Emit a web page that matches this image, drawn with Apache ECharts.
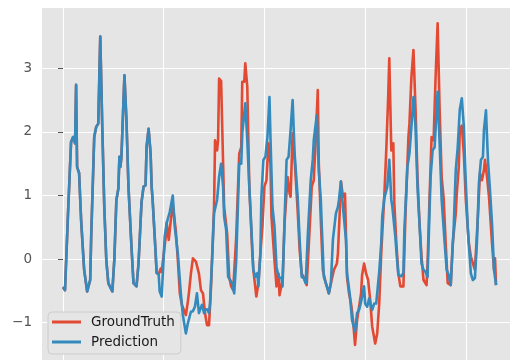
<!DOCTYPE html>
<html>
<head>
<meta charset="utf-8">
<script src="https://cdn.jsdelivr.net/npm/echarts@6/dist/echarts.min.js"></script>
<style>
  html, body { margin: 0; padding: 0; background: #ffffff; }
  #chart { width: 510px; height: 360px; }
</style>
</head>
<body>
<div id="chart"></div>
<script>
// Hourly samples [hour index, standardized value]
// Both series coincide for the first four days
const sharedHead = [
  [0,-0.44],[2,-0.49],[5,0.72],[8,1.84],[10,1.92],[12,1.82],[13,2.74],[14,1.45],[16,1.35],
  [18,0.61],[21,-0.17],[24,-0.51],[27,-0.33],[28,0.35],[31,1.92],[33,2.08],[35,2.13],[37,3.5],
  [39,2.08],[41,0.82],[43,-0.02],[45,-0.38],[49,-0.51],[51,0],[53,0.93],[55,1.11],[56,1.61],
  [57,1.45],[58,1.6],[61,2.89],[63,2.19],[65,1.14],[68,0.19],[70,-0.38],[73,-0.43],[75,-0.07],
  [78,0.9],[80,1.14],[82,1.16],[83,1.77],[85,2.05],[87,1.66],[88,1.14],[89,0.93],[92,0.09],
  [93,-0.22],[95,-0.24]
];

const groundTruthTail = [
  [97,-0.15],[98,-0.2],[102,0.35],[103,0.57],[105,0.3],[107,0.6],[109,0.85],[112,0.45],[114,0.0],
  [116,-0.54],[118,-0.72],[120,-0.8],[122,-0.88],[124,-0.67],[125,-0.54],[127,-0.23],[128,-0.25],
  [129,0.01],[132,-0.04],[135,-0.23],[137,-0.49],[139,-0.54],[141,-0.85],[143,-1.04],[145,-1.04],
  [147,-0.43],[150,0.82],[151,1.87],[153,1.71],[154,1.87],[155,2.84],[157,2.8],[159,1.5],[160,0.82],
  [163,0.4],[165,-0.28],[167,-0.43],[169,-0.49],[172,0.35],[175,1.66],[177,1.76],[178,2.79],
  [180,2.79],[181,3.08],[183,2.71],[185,1.14],[188,0.09],[189,-0.17],[192,-0.59],[194,-0.38],
  [196,0.09],[198,0.51],[200,1.14],[202,1.24],[204,1.82],[206,1.5],[207,0.67],[210,-0.02],
  [212,-0.43],[214,-0.23],[215,-0.57],[218,-0.33],[220,0.56],[223,1.29],[225,1.03],[226,0.98],
  [228,1.98],[230,1.56],[233,0.77],[235,0.14],[237,-0.23],[239,-0.28],[242,-0.41],[245,0.51],
  [247,1.14],[249,1.24],[251,1.9],[253,2.66],[254,1.5],[256,0.61],[258,-0.17],[261,-0.38],
  [264,-0.54],[266,-0.38],[269,-0.17],[272,-0.07],[273,0.09],[275,0.82],[276,1.22],[278,0.98],
  [280,1.03],[282,-0.28],[284,-0.54],[286,-0.7],[288,-0.96],[290,-1.35],[292,-0.96],[294,-0.75],
  [296,-0.54],[297,-0.25],[299,-0.07],[301,-0.23],[303,-0.33],[305,-0.64],[307,-1.06],[310,-1.33],
  [312,-1.17],[314,-0.7],[316,0.09],[319,0.98],[321,1.71],[323,2.6],[324,3.16],[326,1.71],
  [328,1.82],[329,0.88],[331,0.25],[333,-0.23],[335,-0.43],[338,-0.43],[340,0.67],[343,1.92],
  [344,2.13],[346,2.87],[348,3.29],[350,2.39],[352,1.29],[354,0.56],[356,0.04],[358,-0.33],
  [361,-0.41],[362,-0.07],[364,0.98],[366,1.92],[368,1.87],[370,2.87],[372,3.71],[374,2.34],
  [376,1.29],[378,0.95],[380,0.25],[382,-0.38],[385,-0.41],[387,0.25],[390,0.72],[391,1.03],
  [393,1.45],[394,2.03],[396,2.1],[398,1.66],[400,0.93],[403,0.25],[405,0.04],[408,-0.12],
  [409,-0.17],[412,0.67],[414,1.35],[416,1.24],[418,1.4],[419,1.56],[421,1.3],[423,0.98],
  [426,0.25],[428,-0.17],[429,0.01],[430,-0.41]
];

const predictionTail = [
  [96,-0.51],[98,-0.59],[101,0.35],[103,0.57],[106,0.74],[109,1.0],[111,0.51],[114,0.09],
  [117,-0.54],[119,-0.88],[122,-1.17],[124,-1.01],[127,-0.83],[129,-0.82],[131,-0.75],[133,-0.54],
  [135,-0.85],[136,-0.8],[138,-0.72],[140,-0.85],[141,-0.8],[143,-0.79],[145,-0.85],[146,-0.7],
  [148,-0.02],[150,0.72],[153,0.93],[155,1.29],[157,1.5],[159,1.14],[160,0.67],[162,0.46],
  [164,-0.28],[166,-0.33],[168,-0.38],[170,-0.54],[172,-0.02],[175,1.5],[177,1.5],[178,1.98],
  [181,2.45],[183,1.87],[185,1.14],[187,0.5],[189,-0.17],[191,-0.28],[193,-0.22],[194,-0.43],
  [196,0.09],[197,0.98],[199,1.56],[201,1.61],[203,1.92],[205,2.55],[206,1.92],[208,0.82],
  [210,0.51],[212,-0.12],[214,-0.28],[217,-0.3],[218,-0.43],[220,0.61],[222,1.56],[224,1.61],
  [226,2.03],[228,2.5],[230,1.66],[233,0.98],[235,0.3],[237,-0.28],[239,-0.3],[241,-0.38],
  [243,0.35],[246,1.24],[248,1.56],[249,1.87],[252,2.26],[254,1.4],[256,0.93],[257,0.5],
  [259,-0.28],[262,-0.43],[264,-0.54],[266,-0.38],[268,0.3],[271,0.72],[273,0.82],[274,0.93],
  [276,1.22],[278,0.82],[281,0.3],[282,-0.22],[285,-0.59],[287,-0.96],[290,-1.14],[292,-0.85],
  [294,-0.8],[296,-0.67],[297,-0.7],[299,-0.43],[300,-0.7],[302,-0.75],[304,-0.62],[305,-0.65],
  [307,-0.8],[309,-0.7],[311,-0.7],[312,-0.7],[314,-0.2],[316,0.25],[317,0.67],[319,0.95],
  [322,1.14],[324,1.56],[326,0.93],[327,0.83],[330,0.35],[332,-0.07],[333,-0.25],[336,-0.27],
  [338,-0.22],[339,0.46],[342,1.45],[344,1.66],[346,2.09],[348,2.55],[350,2.09],[352,1.14],
  [354,0.56],[356,-0.07],[358,-0.17],[360,-0.2],[362,-0.28],[363,0.25],[365,1.29],[367,1.71],
  [369,1.76],[371,2.34],[372,2.63],[374,1.82],[376,0.93],[379,0.25],[381,-0.17],[383,-0.25],
  [385,-0.41],[388,0.51],[390,1.4],[392,1.77],[394,2.35],[396,2.53],[398,2.09],[400,1.19],
  [402,0.46],[405,-0.23],[407,-0.33],[409,-0.3],[411,0.25],[413,1.19],[415,1.56],[417,1.61],
  [418,2.03],[420,2.34],[422,1.55],[424,1.08],[426,0.56],[428,-0.17],[430,-0.41]
];

const groundTruth = sharedHead.concat(groundTruthTail);
const prediction = sharedHead.concat(predictionTail);

const xTicks = [0, 100, 200, 300, 400];
const yTicks = [-1, 0, 1, 2, 3];
const seriesNames = ['GroundTruth', 'Prediction'];

const FONT = 'DejaVu Sans';
const chart = echarts.init(document.getElementById('chart'), null, { renderer: 'canvas' });

chart.setOption({
  animation: false,
  backgroundColor: '#ffffff',
  grid: {
    left: 42, top: 8, width: 477, height: 354,
    outerBoundsMode: 'none',
    containLabel: false,
    show: true, backgroundColor: '#E5E5E5', borderWidth: 0
  },
  xAxis: {
    type: 'value',
    min: -20.85, max: 452.8,
    axisLine: { show: false },
    axisTick: { show: false, customValues: xTicks },
    axisLabel: { show: false, customValues: xTicks },
    splitLine: { show: true, lineStyle: { color: '#ffffff', width: 1.1 } }
  },
  yAxis: {
    type: 'value',
    min: -1.62, max: 3.95,
    axisLine: { show: false },
    axisTick: { show: true, length: 5, customValues: yTicks, lineStyle: { color: '#555555', width: 1 } },
    axisLabel: {
      customValues: yTicks,
      margin: 10,
      color: '#555555',
      fontFamily: FONT,
      fontSize: 13.5,
      formatter: v => String(v).replace('-', '\u2212')
    },
    splitLine: { show: true, lineStyle: { color: '#ffffff', width: 1.1 } }
  },
  legend: {
    left: 48, top: 312,
    orient: 'vertical',
    icon: 'rect',
    itemWidth: 29, itemHeight: 3,
    itemGap: 6,
    padding: [3, 6, 5, 4],
    backgroundColor: '#E5E5E5',
    borderColor: '#CCCCCC',
    borderWidth: 1,
    borderRadius: 4,
    textStyle: { fontFamily: FONT, fontSize: 13.5, color: '#1a1a1a', padding: [0, 0, 0, 5] },
    data: seriesNames
  },
  series: [
    {
      name: seriesNames[0], type: 'line', data: groundTruth,
      showSymbol: false, symbol: 'none',
      color: '#E24A33',
      lineStyle: { color: '#E24A33', width: 2.6, join: 'round' }
    },
    {
      name: seriesNames[1], type: 'line', data: prediction,
      showSymbol: false, symbol: 'none',
      color: '#348ABD',
      lineStyle: { color: '#348ABD', width: 2.6, join: 'round' }
    }
  ]
});
</script>
</body>
</html>
